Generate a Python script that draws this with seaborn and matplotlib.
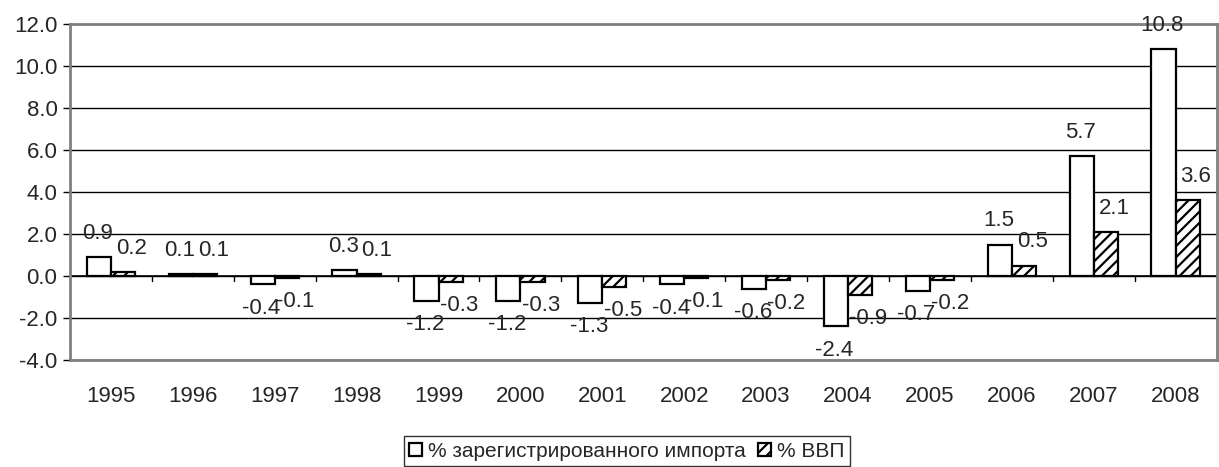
import numpy as np
import pandas as pd
import matplotlib
matplotlib.use('Agg')
import matplotlib.pyplot as plt
import seaborn as sns

# Данные
anos = ['1995', '1996', '1997', '1998', '1999', '2000', '2001', '2002',
        '2003', '2004', '2005', '2006', '2007', '2008']
imp = [0.9, 0.1, -0.4, 0.3, -1.2, -1.2, -1.3, -0.4, -0.6, -2.4, -0.7, 1.5, 5.7, 10.8]
vvp = [0.2, 0.1, -0.1, 0.1, -0.3, -0.3, -0.5, -0.1, -0.2, -0.9, -0.2, 0.5, 2.1, 3.6]
series = ['% зарегистрированного импорта', '% ВВП']

df = pd.DataFrame({'ano': anos * 2,
                   'valor': imp + vvp,
                   'serie': [series[0]] * len(anos) + [series[1]] * len(anos)})

sns.set_style('white')
plt.rcParams['font.family'] = ['Liberation Sans', 'DejaVu Sans']
plt.rcParams['hatch.linewidth'] = 1.6

fig = plt.figure(figsize=(12.19, 4.67), dpi=100)
ax = fig.add_axes([0.0574, 0.229, 0.9406, 0.7196])

sns.barplot(data=df, x='ano', y='valor', hue='serie', ax=ax,
            palette=['white', 'white'], edgecolor='black', linewidth=1.6,
            width=0.59, gap=0, legend=True)

# hachura na segunda série
for patch in ax.containers[1]:
    patch.set_hatch('///')

# rótulos
for cont, vals, dx in zip(ax.containers, [imp, vvp], [-1, 6]):
    for patch, v in zip(cont, vals):
        cx = patch.get_x() + patch.get_width() / 2
        off = 17 if v >= 0 else -17
        ax.annotate(f'{v:.1f}', (cx, v), xytext=(dx, off), textcoords='offset points',
                    ha='center', va='center', fontsize=16)

ax.set_ylim(-4, 12)
ax.set_xlim(-0.5, len(anos) - 0.5)
ax.set_yticks(np.arange(-4, 12.1, 2))
ax.set_yticklabels([f'{t:.1f}' for t in np.arange(-4, 12.1, 2)])
ax.yaxis.grid(True, color='black', lw=1)
ax.set_axisbelow(True)
ax.axhline(0, color='black', lw=1.2, zorder=1)

# marcas entre categorias na linha do zero
for b in np.arange(0.5, len(anos) - 0.5, 1):
    ax.plot([b, b], [0, -0.25], color='black', lw=1, zorder=1)

for s in ax.spines.values():
    s.set_color('#808080')
    s.set_linewidth(2)

ax.tick_params(axis='x', length=0, pad=19, labelsize=16)
ax.tick_params(axis='y', length=5, width=1, color='black', pad=4, labelsize=16, left=True)
ax.set_xlabel('')
ax.set_ylabel('')

leg = ax.legend(loc='upper center', bbox_to_anchor=(0.4857, -0.227), ncol=2,
                fontsize=15, frameon=True, fancybox=False, borderpad=0.25,
                handlelength=0.6, handleheight=0.6, handletextpad=0.3,
                columnspacing=0.6, borderaxespad=0)
leg.get_frame().set_edgecolor('black')
leg.get_frame().set_linewidth(1)
leg.legend_handles[1].set_hatch('///')

fig.savefig('out.png', dpi=100)
